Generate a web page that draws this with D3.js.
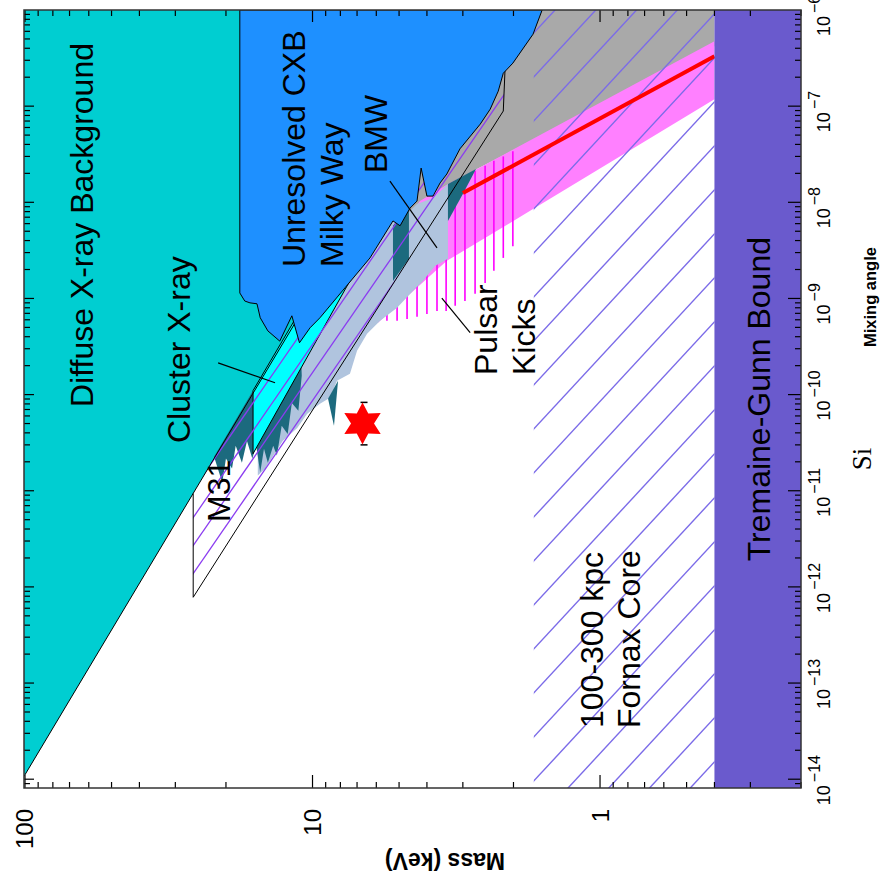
<!DOCTYPE html>
<html>
<head>
<meta charset="utf-8">
<script src="https://cdn.jsdelivr.net/npm/d3@7"></script>
<style>
  body { margin: 0; background: #fff; }
  svg { display: block; }
  text { font-family: "Liberation Sans", Arial, sans-serif; }
</style>
</head>
<body>
<div id="chart"></div>
<script>
const width = 882;
const height = 888;
const plot = { left: 24, right: 801, top: 10, bottom: 788 };

// ---- data: [mass (keV), mixing angle] ----
const massTickLabels = [100, 10, 1];
const mixTickExponents = [-14, -13, -12, -11, -10, -9, -8, -7, -6];

const diffuseXray = [[100.8, 1e-6], [2.57, 1e-6], [100.8, 1.07e-14]];
const diffuseEdge = [[100.8, 1.07e-14], [2.57, 1e-6]];

const unresolvedCXB = [
  [17.9, 1e-6], [1.59, 1e-6], [1.71, 5.6e-7], [2.01, 2.8e-7], [2.17, 2.2e-7],
  [2.26, 1.43e-7], [2.41, 9.3e-8], [2.61, 6.5e-8], [3.07, 3.6e-8], [3.41, 1.97e-8],
  [3.60, 1.59e-8], [3.81, 1.16e-8], [4.00, 1.16e-8], [4.19, 2.27e-8], [4.33, 1.03e-8],
  [4.58, 8.7e-9], [4.96, 5.7e-9], [5.25, 6.4e-9], [6.31, 2.64e-9], [7.71, 1.29e-9],
  [9.42, 6.3e-10], [10.2, 4.95e-10], [11.1, 3.46e-10], [11.8, 6.6e-10], [13.0, 3.6e-10],
  [14.3, 4.6e-10], [15.2, 6.3e-10], [15.6, 8.8e-10], [16.5, 9.0e-10], [17.2, 9.4e-10],
  [17.9, 1.14e-9]
];

const greyRegion = [
  [2.23, 1e-6], [0.4, 1e-6], [0.4, 4.2e-7], [2.68, 2.22e-8], [3.38, 1.48e-8],
  [4.06, 9.2e-9], [4.77, 7.2e-9], [4.58, 1.48e-8], [3.60, 7.0e-8]
];

const pinkBand = [
  [0.4, 4.73e-7], [2.68, 2.22e-8], [3.38, 1.55e-8], [4.23, 1.03e-8], [5.92, 2.46e-9],
  [5.92, 5.6e-10], [3.41, 2.46e-9], [1.71, 8.5e-9], [0.4, 1.18e-7]
];

const pulsarKickMass = [5.51, 5.08, 4.69, 4.33, 4.00, 3.69, 3.43, 3.19, 2.95, 2.72, 2.51, 2.34, 2.17, 2.01];
const pulsarKickLow = [5.85e-10, 5.85e-10, 6.1e-10, 6.45e-10, 6.9e-10, 7.4e-10, 7.4e-10, 8.4e-10, 9.4e-10, 1.12e-9, 1.45e-9, 1.94e-9, 2.64e-9, 3.5e-9];
const pulsarKickHigh = [3e-9, 3e-9, 3e-9, 3e-9, 3e-9, 3e-9, 3e-9, 1.03e-8, 1.25e-8, 2.11e-8, 2.4e-8, 2.7e-8, 3.0e-8, 3.4e-8];

const bmwRegion = [
  [15.5, 1.44e-11], [14.6, 1.70e-11], [12.7, 3.3e-11], [11.3, 4.5e-11], [10.45, 6.3e-11],
  [9.42, 8.05e-11], [8.70, 9.3e-11], [8.22, 1.39e-10], [7.41, 1.65e-10], [7.00, 2.86e-10],
  [6.46, 4.3e-10], [5.82, 5.85e-10], [5.08, 8.0e-10], [4.47, 1.2e-9], [4.13, 1.52e-9],
  [3.75, 2.18e-9], [3.38, 2.58e-9], [3.38, 1.55e-8], [3.81, 1.11e-8], [4.33, 9.6e-9],
  [4.96, 6.4e-9], [5.25, 7.2e-9], [6.31, 2.98e-9], [7.71, 1.45e-9], [11.1, 7.26e-10],
  [15.0, 1.57e-10], [15.5, 1.30e-10]
];

const m31Spikes = [
  [22.0, 2.26e-11], [20.6, 1.22e-11], [20.0, 2.16e-11], [19.05, 1.70e-11], [18.5, 2.94e-11],
  [17.6, 1.96e-11], [16.9, 3.3e-11], [16.2, 2.16e-11], [15.7, 2.94e-11], [15.2, 1.55e-11],
  [14.75, 2.74e-11], [14.3, 1.96e-11], [13.7, 2.94e-11], [13.3, 2.32e-11], [12.8, 4.75e-11],
  [12.2, 3.9e-11], [11.8, 8.2e-11], [11.2, 6.8e-11], [10.9, 1.57e-10], [11.1, 7.26e-10]
];
const tealStrip = [[5.25, 5.7e-9], [4.62, 9.2e-9], [4.62, 2.58e-9], [5.25, 1.52e-9]];
const tealWedge = [[3.38, 1.55e-8], [2.70, 2.22e-8], [3.00, 1.22e-8], [3.38, 6.4e-9]];
const tealSpike = [[8.83, 9.06e-11], [8.15, 1.39e-10], [8.42, 4.75e-11]];

const clusterXray = [[16.1, 2.43e-11], [16.1, 1.10e-10], [11.1, 7.26e-10], [6.84, 2.34e-9]];

const m31Region = [[26.0, 9.35e-12], [11.1, 7.26e-10], [4.96, 7.8e-9], [2.14, 2.42e-7], [2.17, 8.9e-8], [26.0, 7.8e-13]];
const m31Outline = [[26.0, 9.35e-12], [26.0, 7.8e-13], [2.17, 8.9e-8], [2.14, 2.42e-7]];

const fornaxMass = [1.7, 0.4];
const tremaineGunnMass = 0.4;

const sterileLine = [[3.0, 1.25e-8], [0.4, 3.3e-7]];
const starPoint = [6.7, 5e-11];
const starError = [3.0e-11, 8.3e-11];

const pointerLines = [
  [[21.3, 2.14e-10], [13.5, 1.33e-10]],
  [[5.38, 1.66e-8], [3.69, 3.35e-9]],
  [[3.55, 1.01e-9], [2.83, 4.4e-10]]
];

// ---- scales ----
const x = d3.scaleLog().domain([100.8, 0.2]).range([plot.left, plot.right]);
const y = d3.scaleLog().domain([8.1e-15, 1e-6]).range([plot.bottom, plot.top]);
const line = d3.line().x(d => x(d[0])).y(d => y(d[1]));
const area = pts => line(pts) + "Z";

const svg = d3.select("#chart")
  .append("svg")
  .attr("width", width)
  .attr("height", height);

const defs = svg.append("defs");
defs.append("clipPath").attr("id", "plotClip")
  .append("rect")
  .attr("x", plot.left).attr("y", plot.top)
  .attr("width", plot.right - plot.left).attr("height", plot.bottom - plot.top);
defs.append("clipPath").attr("id", "m31Clip")
  .append("path").attr("d", area(m31Region));
defs.append("clipPath").attr("id", "fornaxClip")
  .append("rect")
  .attr("x", x(fornaxMass[0])).attr("y", plot.top)
  .attr("width", x(fornaxMass[1]) - x(fornaxMass[0])).attr("height", plot.bottom - plot.top);

const g = svg.append("g").attr("clip-path", "url(#plotClip)");

// diagonal hatching inside a clip region
function hatch(clipId, x0, y0, slope, gap, color, w) {
  const hg = g.append("g").attr("clip-path", `url(#${clipId})`);
  hg.selectAll("line")
    .data(d3.range(-40, 40))
    .enter()
    .append("line")
    .attr("x1", x0 - 500)
    .attr("y1", k => y0 + gap * k + slope * 500)
    .attr("x2", x0 + 700)
    .attr("y2", k => y0 + gap * k - slope * 700)
    .attr("stroke", color)
    .attr("stroke-width", w);
}

g.append("path").attr("d", area(diffuseXray)).attr("fill", "#00CED1");
g.append("path").attr("d", area(greyRegion)).attr("fill", "#A9A9A9");
g.append("path").attr("d", area(pinkBand)).attr("fill", "#FF80FF");

g.selectAll(".kick")
  .data(pulsarKickMass)
  .enter()
  .append("line")
  .attr("class", "kick")
  .attr("x1", d => x(d)).attr("x2", d => x(d))
  .attr("y1", (d, i) => y(pulsarKickLow[i]))
  .attr("y2", (d, i) => y(pulsarKickHigh[i]))
  .attr("stroke", "#FF00FF")
  .attr("stroke-width", 1.6);

g.append("path").attr("d", area(bmwRegion)).attr("fill", "#B0C4DE");
[m31Spikes, tealStrip, tealWedge, tealSpike].forEach(p => {
  g.append("path").attr("d", area(p)).attr("fill", "#1C6A7E");
});

g.append("path").attr("d", area(clusterXray))
  .attr("fill", "#00FFFF").attr("stroke", "#000").attr("stroke-width", 1);

hatch("m31Clip", x(m31Outline[0][0]), y(m31Outline[0][1]) + 24, 1.45, 28, "#8B3CF0", 1.3);
g.append("path").attr("d", line(m31Outline))
  .attr("fill", "none").attr("stroke", "#000").attr("stroke-width", 1);

g.append("path").attr("d", line(diffuseEdge))
  .attr("fill", "none").attr("stroke", "#000").attr("stroke-width", 1);

hatch("fornaxClip", x(fornaxMass[0]), plot.top + 67, 1.08, 44, "#7B6BE8", 1.4);

g.append("path").attr("d", area(unresolvedCXB))
  .attr("fill", "#1E90FF").attr("stroke", "#000").attr("stroke-width", 1);

g.append("path").attr("d", line(sterileLine))
  .attr("fill", "none").attr("stroke", "#FF0000").attr("stroke-width", 4);

g.append("rect")
  .attr("x", x(tremaineGunnMass)).attr("y", plot.top)
  .attr("width", plot.right - x(tremaineGunnMass)).attr("height", plot.bottom - plot.top)
  .attr("fill", "#6A5ACD");

pointerLines.forEach(p => {
  g.append("path").attr("d", line(p))
    .attr("fill", "none").attr("stroke", "#000").attr("stroke-width", 1.2);
});

// star with small error caps
const sx = x(starPoint[0]), sy = y(starPoint[1]);
starError.forEach(v => {
  g.append("line")
    .attr("x1", sx - 2).attr("x2", sx + 5)
    .attr("y1", y(v)).attr("y2", y(v))
    .attr("stroke", "#000").attr("stroke-width", 1.5);
});
const starShape = d3.lineRadial()
  .angle((d, i) => i * Math.PI / 6)
  .radius((d, i) => i % 2 ? 11.5 : 21)
  .curve(d3.curveLinearClosed);
g.append("path")
  .attr("transform", `translate(${sx},${sy})`)
  .attr("d", starShape(d3.range(12)))
  .attr("fill", "#FF0000");

// ---- frame and ticks ----
const isMajor = v => Math.abs(Math.log10(v) - Math.round(Math.log10(v))) < 1e-9;
const xTicks = d3.range(-1, 3).flatMap(e => d3.range(1, 10).map(k => k * 10 ** e))
  .filter(v => v >= 0.2 && v <= 100.8);
const yTicks = d3.range(-15, -6).flatMap(e => d3.range(1, 10).map(k => k * 10 ** e))
  .filter(v => v >= 8.1e-15 && v <= 1e-6);

const axes = svg.append("g").attr("stroke", "#000").attr("stroke-width", 1.2);
xTicks.forEach(v => {
  const px = x(v);
  const big = isMajor(v);
  axes.append("line").attr("x1", px).attr("x2", px)
    .attr("y1", plot.bottom).attr("y2", plot.bottom - (big ? 13 : 6));
  axes.append("line").attr("x1", px).attr("x2", px)
    .attr("y1", plot.top).attr("y2", plot.top + (big ? 12 : 6));
});
yTicks.forEach(v => {
  const py = y(v);
  const big = isMajor(v);
  axes.append("line").attr("x1", plot.left).attr("x2", plot.left + (big ? 10 : 6))
    .attr("y1", py).attr("y2", py);
  axes.append("line").attr("x1", plot.right).attr("x2", plot.right - (big ? 13 : 6))
    .attr("y1", py).attr("y2", py);
});
svg.append("rect")
  .attr("x", plot.left).attr("y", plot.top)
  .attr("width", plot.right - plot.left).attr("height", plot.bottom - plot.top)
  .attr("fill", "none").attr("stroke", "#333").attr("stroke-width", 1.5);

// tick labels
massTickLabels.forEach(v => {
  svg.append("text")
    .attr("transform", `translate(${x(v) + 8.5},${plot.bottom + 21}) rotate(-90)`)
    .attr("text-anchor", "end")
    .attr("font-size", 24)
    .text(v);
});
mixTickExponents.forEach(e => {
  const t = svg.append("text")
    .attr("transform", `translate(830,${y(10 ** e) + 26}) rotate(-90)`)
    .attr("text-anchor", "start")
    .attr("font-size", 18);
  t.append("tspan").text("10");
  t.append("tspan").attr("dx", 3).attr("dy", -10).attr("font-size", 16).text("\u2212" + Math.abs(e));
});

// ---- text labels (rotated) ----
function vlabel(px, py, txt, anchor, size) {
  svg.append("text")
    .attr("transform", `translate(${px},${py}) rotate(-90)`)
    .attr("text-anchor", anchor)
    .attr("font-size", size || 32)
    .text(txt);
}
vlabel(93, 43, "Diffuse X-ray Background", "end");
vlabel(305, 267, "Unresolved CXB", "start");
vlabel(343, 267, "Milky Way", "start");
vlabel(190, 443, "Cluster X-ray", "start");
vlabel(387, 173, "BMW", "start");
vlabel(230, 522, "M31", "start");
vlabel(497, 375, "Pulsar", "start");
vlabel(535, 375, "Kicks", "start");
vlabel(603, 728, "100-300 kpc", "start");
vlabel(640, 728, "Fornax Core", "start");
vlabel(770, 237, "Tremaine-Gunn Bound", "end");

svg.append("text")
  .attr("transform", "translate(876,297) rotate(-90)")
  .attr("text-anchor", "middle")
  .attr("font-size", 16.5)
  .attr("font-weight", "bold")
  .text("Mixing angle");
svg.append("text")
  .attr("transform", "translate(871,459) rotate(-90)")
  .attr("text-anchor", "middle")
  .attr("font-size", 27)
  .style("font-family", "'Liberation Serif', 'DejaVu Serif', serif")
  .text("Si");
svg.append("text")
  .attr("transform", "translate(445,853) rotate(180)")
  .attr("text-anchor", "middle")
  .attr("font-size", 23)
  .attr("font-weight", "bold")
  .text("Mass (keV)");
</script>
</body>
</html>
